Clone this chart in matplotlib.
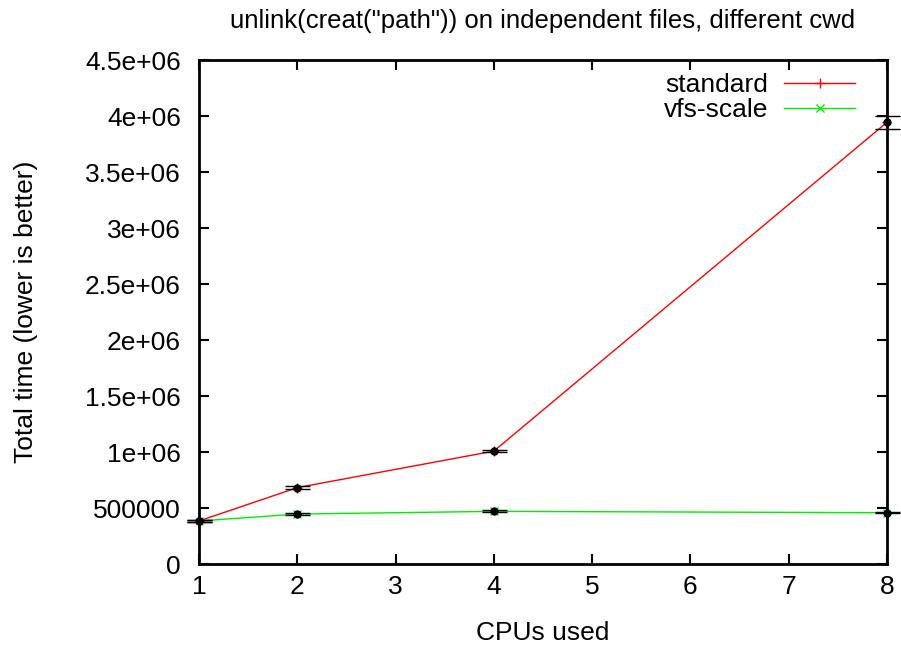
import matplotlib
matplotlib.use("Agg")
import matplotlib.pyplot as plt

plt.rcParams['font.family'] = ['Liberation Sans', 'DejaVu Sans']

cpus = [1, 2, 4, 8]
standard = [384000, 682000, 1008000, 3944000]
standard_err = [8000, 10000, 12000, 60000]
vfs_scale = [384000, 446000, 470000, 458000]
vfs_scale_err = [6000, 8000, 8000, 6000]

yticks = [0, 500000, 1000000, 1500000, 2000000, 2500000, 3000000, 3500000, 4000000, 4500000]
ytick_labels = ['0', '500000', '1e+06', '1.5e+06', '2e+06', '2.5e+06', '3e+06', '3.5e+06', '4e+06', '4.5e+06']

fig = plt.figure(figsize=(9.01, 6.47), dpi=100)
ax = fig.add_axes([199 / 901, 1 - 564 / 647, (887 - 199) / 901, (564 - 60) / 647])

ax.plot(cpus, standard, color='#ff0000', lw=1, marker='+', ms=7, label='standard')
ax.plot(cpus, vfs_scale, color='#00ee00', lw=1, marker='x', ms=6, label='vfs-scale')

# error bars with black dots on top
ax.errorbar(cpus, standard, yerr=standard_err, fmt='o', color='black', ms=5,
            ecolor='black', elinewidth=1, capsize=9, capthick=1, clip_on=False)
ax.errorbar(cpus, vfs_scale, yerr=vfs_scale_err, fmt='o', color='black', ms=5,
            ecolor='black', elinewidth=1, capsize=9, capthick=1, clip_on=False)

ax.set_xlim(1, 8)
ax.set_ylim(0, 4500000)
ax.set_xticks(range(1, 9))
ax.set_yticks(yticks)
ax.set_yticklabels(ytick_labels)
ax.tick_params(direction='in', length=7, width=1.5, labelsize=19, top=True, right=True)
ax.tick_params(axis='y', pad=13)
ax.tick_params(axis='x', pad=8)
for s in ax.spines.values():
    s.set_linewidth(2)

ax.set_xlabel('CPUs used', fontsize=19, labelpad=16)
ax.set_ylabel('Total time (lower is better)', fontsize=19, labelpad=34)
ax.set_title('unlink(creat("path")) on independent files, different cwd', fontsize=18.5, pad=23)

ax.legend(loc='upper right', bbox_to_anchor=(1 - 16 / 688, 1 + 3 / 504), frameon=False,
          markerfirst=False, fontsize=19, handlelength=2.7, borderaxespad=0.4,
          borderpad=0.2, labelspacing=0.05, handletextpad=0.6)

fig.savefig('out.png', dpi=100)
